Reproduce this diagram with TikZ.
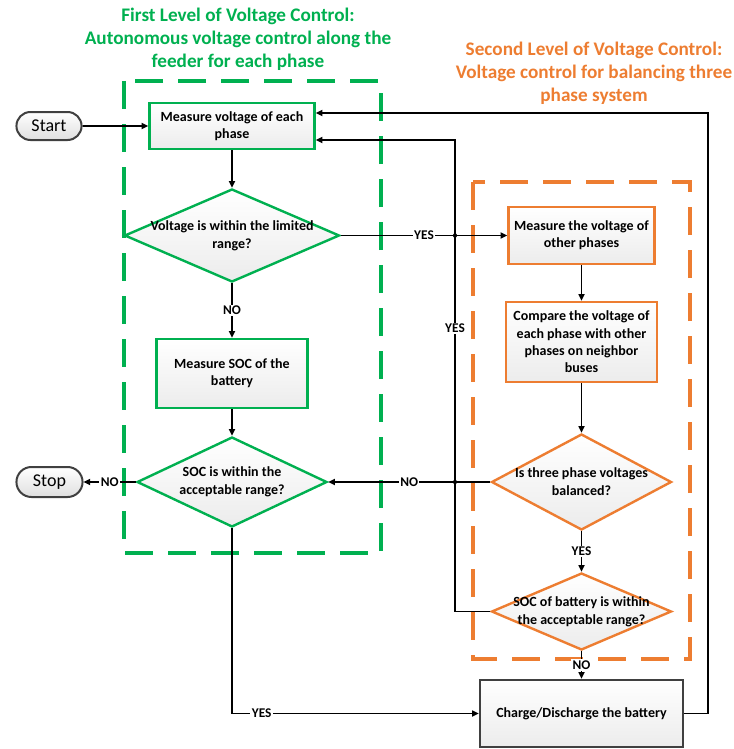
\documentclass[tikz,border=0pt]{standalone}
\usepackage{fontspec}
\setmainfont{Carlito}
\usetikzlibrary{shapes.geometric,shapes.misc,arrows.meta}

\definecolor{lvlgreen}{RGB}{0,176,80}
\definecolor{lvlorange}{RGB}{237,125,49}
\definecolor{edgegray}{RGB}{64,64,64}

\tikzset{every picture/.style={line width=0.75pt}}
\tikzset{
  procbox/.style={rectangle, line width=1.8pt, top color=white, bottom color=gray!15, align=center, inner sep=1pt, font=\fontsize{10.5}{13}\selectfont\bfseries},
  decbox/.style={diamond, line width=1.8pt, top color=white, bottom color=gray!15, align=center, inner xsep=-12pt, inner ysep=-6pt, font=\fontsize{10.5}{13.5}\selectfont\bfseries},
  termbox/.style={rounded rectangle, draw=edgegray, line width=1.5pt, top color=white, bottom color=gray!25, font=\fontsize{13.5}{15}\selectfont},
  flow/.style={line width=1.2pt, -{Triangle[length=5pt,width=4.5pt]}},
  lbl/.style={fill=white, inner sep=1pt, font=\fontsize{10}{12}\selectfont\bfseries},
  levelframe/.style={line width=3pt, dash pattern=on 21pt off 11.25pt},
  leveltitle/.style={align=center, font=\fontsize{14.4}{17.25}\selectfont\bfseries}
}

\begin{document}
\begin{tikzpicture}[x=0.75pt,y=0.75pt,yscale=-1,xscale=1]
\useasboundingbox (0,0) rectangle (734,749);

%Dashed frames of the two levels
\draw [levelframe, lvlgreen] (124,81) rectangle (381,553) ;
\draw [levelframe, lvlorange] (473,182) rectangle (690,659) ;

% Text Node
\draw (238,39) node [leveltitle, text=lvlgreen] (firsttitle) {First Level of Voltage Control:\\Autonomous voltage control along the\\feeder for each phase};
% Text Node
\draw (594,73) node [leveltitle, text=lvlorange] (secondtitle) {Second Level of Voltage Control:\\Voltage control for balancing three\\phase system};

%Terminals
\draw (49,126) node [termbox, minimum width=55.5pt, minimum height=21pt] (start) {Start};
\draw (49.5,482) node [termbox, minimum width=56.25pt, minimum height=22.5pt] (stop) {Stop};

%First level shapes
\draw (232,126) node [procbox, draw=lvlgreen, minimum width=123.75pt, minimum height=34.5pt] (measv) {Measure voltage of each\\phase};
\draw (232,235.5) node [decbox, draw=lvlgreen, minimum width=161.25pt, minimum height=69.75pt, shape aspect=2.3] (inrange) {Voltage is within the limited\\range?};
\draw (232,373.5) node [procbox, draw=lvlgreen, minimum width=113.25pt, minimum height=51.75pt] (meassoc) {Measure SOC of the\\battery};
\draw (232,482) node [decbox, draw=lvlgreen, minimum width=142.5pt, minimum height=67.5pt, shape aspect=2.1] (socok) {SOC is within the\\acceptable range?};

%Second level shapes
\draw (581.5,235.5) node [procbox, draw=lvlorange, minimum width=109.5pt, minimum height=42.75pt] (measother) {Measure the voltage of\\other phases};
\draw (581.5,342) node [procbox, draw=lvlorange, minimum width=113.25pt, minimum height=60pt] (compare) {Compare the voltage of\\each phase with other\\phases on neighbor\\buses};
\draw (581.5,482) node [decbox, draw=lvlorange, minimum width=135pt, minimum height=72pt, shape aspect=1.9] (balanced) {Is three phase voltages\\balanced?};
\draw (581.5,611.5) node [decbox, draw=lvlorange, minimum width=135pt, minimum height=57.75pt, shape aspect=2.3] (socbat) {SOC of battery is within\\the acceptable range?};

%Action
\draw (581.5,713.5) node [procbox, draw=edgegray, minimum width=152.25pt, minimum height=50.25pt] (charge) {Charge/Discharge the battery};

%Turning points of the return lines
\coordinate (yesturn) at (455,140);
\coordinate (loopturn) at (708,113);

%Straight Lines
\draw [flow] (start) -- (measv) ;
\draw [flow] (measv) -- (inrange) ;
\draw [flow] (inrange) -- node [lbl] {NO} (meassoc) ;
\draw [flow] (meassoc) -- (socok) ;
\draw [flow] (socok.west) -- node [lbl] {NO} (stop.east) ;
\draw [flow] (socok.south) |- node [lbl, pos=0.56] {YES} (charge.west) ;
\draw [flow] (inrange.east) -- node [lbl] {YES} (measother.west) ;
\draw [flow] (measother) -- (compare) ;
\draw [flow] (compare) -- (balanced) ;
\draw [flow] (balanced) -- node [lbl] {YES} (socbat) ;
\draw [flow] (balanced.west) -- node [lbl] {NO} (socok.east) ;
\draw [flow] (socbat) -- node [lbl] {NO} (charge) ;
\draw [flow] (socbat.west) -| node [lbl, pos=0.8] {YES} (yesturn) -- (yesturn -| measv.east) ;
\draw [flow] (charge.east) -| (loopturn) -- (loopturn -| measv.east) ;

%Crossing dots
\fill (455,235.5) circle (1.6pt) ;
\fill (455,482) circle (1.6pt) ;

\end{tikzpicture}
\end{document}
